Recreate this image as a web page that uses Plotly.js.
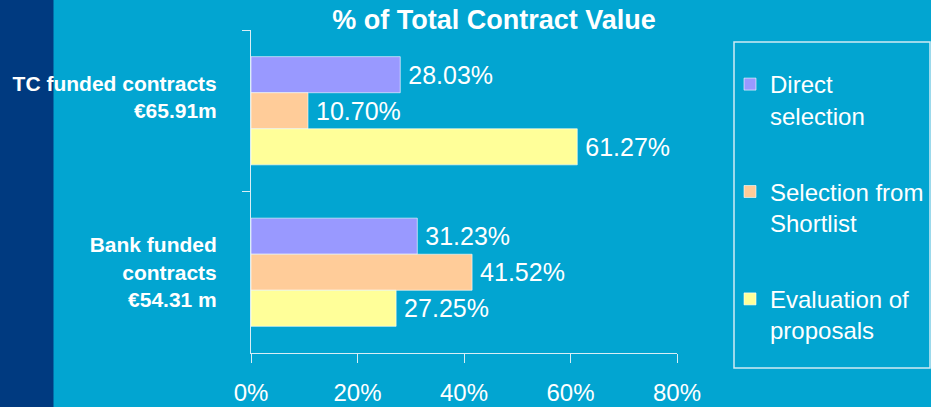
<!DOCTYPE html>
<html>
<head>
<meta charset="utf-8">
<script src="https://cdn.plot.ly/plotly-3.0.1.min.js"></script>
<style>
html,body{margin:0;padding:0;}
#chart{width:931px;height:407px;background:linear-gradient(to right,#003A80 0px,#003A80 53px,#02A5D1 54px,#02A5D1 100%);}
</style>
</head>
<body>
<div id="chart"></div>
<script>
const categories = ["TC funded contracts<br>€65.91m<br> ", "Bank funded<br>contracts<br>€54.31 m"];
const seriesNames = ["Direct<br>selection", "Selection from<br>Shortlist", "Evaluation of<br>proposals"];
const directSelection = [28.03, 31.23];
const shortlistSelection = [10.70, 41.52];
const evaluationProposals = [61.27, 27.25];
const colors = ["#9999FF", "#FFCC99", "#FFFF99"];
const xTicks = [0, 20, 40, 60, 80];

const FONT = "Liberation Sans, Arial, sans-serif";
const W = 931, H = 407, ML = 251, MR = 254, MT = 30, MB = 54;
const PW = W - ML - MR, PH = H - MT - MB;
const px2paperX = p => (p - ML) / PW;
const px2paperY = p => (H - MB - p) / PH;

const allValues = [directSelection, shortlistSelection, evaluationProposals];
const traces = allValues.map((vals, i) => ({
  type: "bar",
  orientation: "h",
  name: seriesNames[i],
  legendgroup: "g" + i,
  y: categories,
  x: vals,
  text: vals.map(v => "\u2009" + v.toFixed(2) + "%"),
  textposition: "outside",
  cliponaxis: false,
  textfont: {family: FONT, size: 25, color: "#FFFFFF"},
  marker: {color: colors[i], line: {color: "rgba(255,255,255,0.6)", width: 1}},
  hoverinfo: "none"
}));

const layout = {
  width: W,
  height: H,
  paper_bgcolor: "rgba(0,0,0,0)",
  plot_bgcolor: "rgba(0,0,0,0)",
  margin: {l: ML, r: MR, t: MT, b: MB},
  barmode: "group",
  bargap: 0.33,
  bargroupgap: 0,
  font: {family: FONT, color: "#FFFFFF"},
  title: {
    text: "<b>% of Total Contract Value</b>",
    font: {family: FONT, size: 27, color: "#FFFFFF"},
    x: 494 / W, xref: "container", xanchor: "center",
    y: 1 - 20 / H, yref: "container", yanchor: "middle"
  },
  xaxis: {
    range: [0, 80],
    tickvals: xTicks,
    ticktext: xTicks.map(v => v + "%"),
    showgrid: false,
    zeroline: false,
    showline: true,
    linecolor: "#D8EEF6",
    linewidth: 1,
    ticks: "outside",
    ticklen: 9,
    tickcolor: "#D8EEF6",
    ticklabelstandoff: 9,
    tickfont: {size: 24, color: "#FFFFFF"},
    fixedrange: true
  },
  yaxis: {
    autorange: "reversed",
    showgrid: false,
    zeroline: false,
    showline: true,
    linecolor: "#D8EEF6",
    linewidth: 1,
    ticks: "outside",
    tickson: "boundaries",
    ticklen: 8,
    tickcolor: "#D8EEF6",
    ticklabelstandoff: 29,
    tickfont: {size: 21, color: "#FFFFFF", weight: "bold"},
    fixedrange: true
  },
  shapes: [{
    type: "rect", xref: "paper", yref: "paper",
    x0: px2paperX(734), x1: px2paperX(930),
    y0: px2paperY(368), y1: px2paperY(42),
    line: {color: "#CFEAF4", width: 1.5},
    fillcolor: "rgba(0,0,0,0)",
    layer: "below"
  }],
  showlegend: true,
  legend: {
    x: 730 / W, xref: "container", xanchor: "left",
    y: 1 - 62 / H, yref: "container", yanchor: "top",
    bgcolor: "rgba(0,0,0,0)",
    borderwidth: 0,
    font: {size: 24, color: "#FFFFFF"},
    traceorder: "grouped",
    tracegroupgap: 42,
    valign: "top",
    itemwidth: 30,
    maxheight: 400
  }
};

Plotly.newPlot("chart", traces, layout, {displayModeBar: false, staticPlot: true});
</script>
</body>
</html>
